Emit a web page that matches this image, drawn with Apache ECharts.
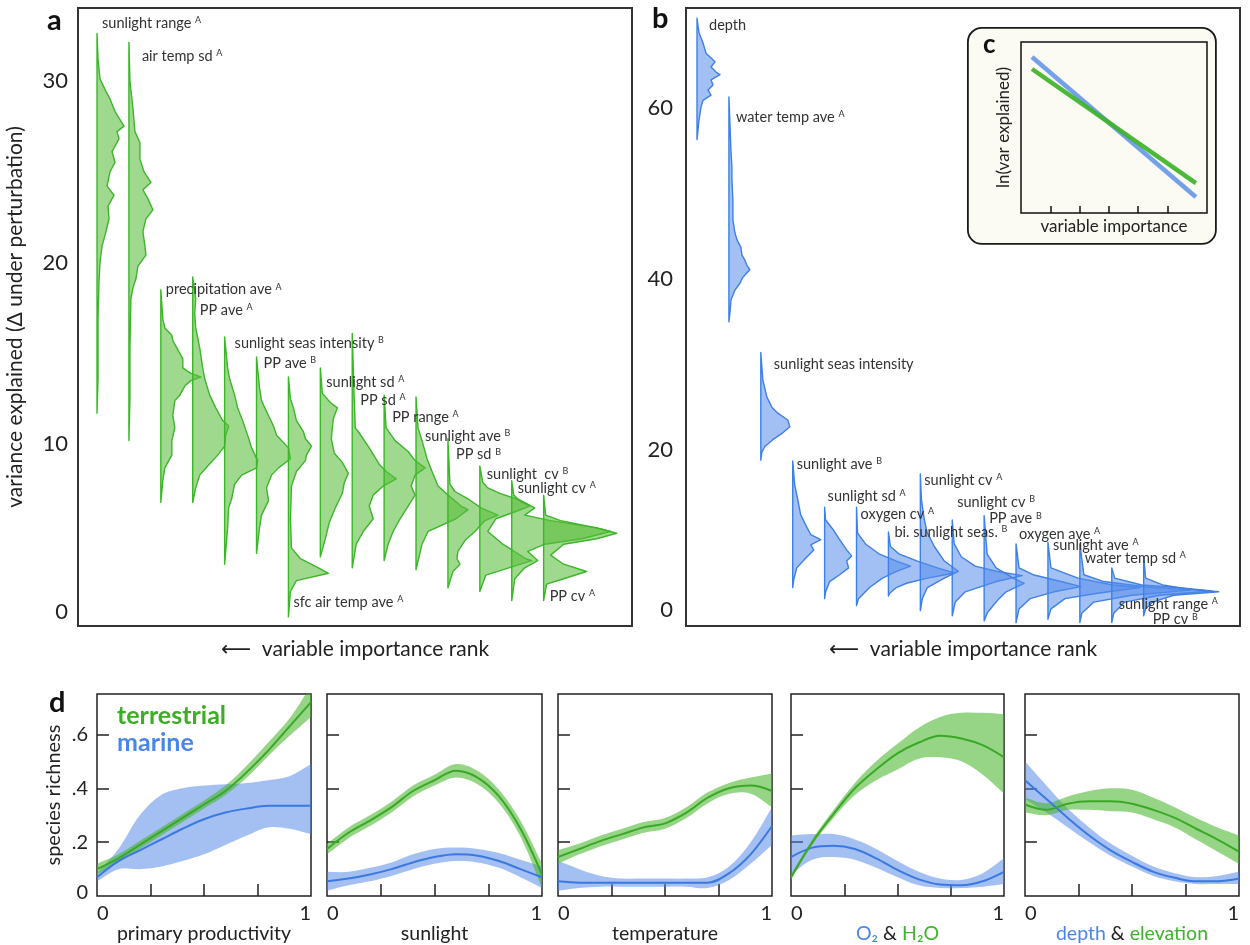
<!DOCTYPE html>
<html><head><meta charset="utf-8">
<script src="https://cdn.jsdelivr.net/npm/echarts@6.0.0/dist/echarts.min.js"></script>
<style>html,body{margin:0;padding:0;background:#fff}#c{width:1250px;height:945px}</style>
</head><body><div id="c"></div>
<script>
// ---------------- Panel a (terrestrial) : density profiles [value, density] ----------------
const aNames = ['sunlight range','air temp sd','precipitation ave','PP ave','sunlight seas intensity','PP ave','sfc air temp ave','sunlight sd','PP sd','PP range','sunlight ave','PP sd','sunlight  cv','sunlight cv','PP cv'];
const aSup = ['A','A','A','A','B','B','A','A','A','A','B','B','B','A','A'];
const aV1 = [[32.6,0],[31.2,1],[30.1,3],[29.4,9],[29.0,13],[28.3,18],[27.5,27],[27.2,20],[26.8,22],[26.1,15],[25.5,18],[25.0,13],[24.2,10],[23.7,17],[23.1,11],[22.4,12],[21.7,9],[20.9,5],[20.0,3],[19.0,2],[16.9,1],[13.6,1],[11.7,0]];
const aV2 = [[32.1,0],[30.0,1],[28.5,4],[27.2,6],[26.6,11],[25.7,11],[25.0,15],[24.4,22],[24.0,14],[23.5,19],[22.9,24],[22.4,17],[21.7,14],[20.9,16],[20.4,17],[19.8,9],[19.1,7],[18.6,4],[18.0,2],[15.3,1],[12.5,1],[10.2,0]];
const aV3 = [[18.5,0],[16.9,2],[16.4,4],[16.0,11],[15.7,12],[15.3,16],[14.7,22],[14.2,22],[13.9,30],[13.7,40],[13.5,30],[13.2,24],[12.7,19],[12.4,14],[11.6,12],[10.9,14],[10.2,11],[9.4,11],[8.7,4],[8.0,2],[6.8,0]];
const aV4 = [[19.2,0],[18.0,3],[17.2,2],[16.4,3],[15.3,7],[14.2,10],[13.6,12],[12.7,17],[12.0,23],[11.3,30],[11.0,36],[10.5,33],[9.9,32],[9.4,25],[8.8,15],[8.3,7],[7.6,3],[6.8,0]];
const aV5 = [[15.9,0],[14.2,3],[13.6,5],[12.7,10],[12.0,13],[11.3,18],[10.5,23],[9.8,27],[9.1,33],[8.7,32],[8.3,17],[7.8,10],[7.0,7],[6.5,4],[5.4,3],[3.4,0]];
const aV6 = [[14.8,0],[13.1,3],[12.4,5],[11.8,10],[11.0,17],[10.5,20],[9.8,32],[9.2,34],[8.7,22],[8.3,15],[7.6,10],[6.9,12],[6.1,5],[5.4,3],[4.0,0]];
const aV7 = [[13.7,0],[12.5,2],[12.0,5],[11.3,8],[10.7,15],[10.3,17],[9.9,23],[9.4,18],[9.1,17],[8.5,8],[7.7,3],[5.9,2],[4.3,3],[3.7,12],[3.2,30],[2.9,40],[2.5,8],[1.9,2],[0.5,0]];
const aV8 = [[14.2,0],[12.8,2],[12.3,10],[12.0,17],[11.4,13],[10.9,12],[10.3,11],[9.5,14],[9.0,22],[8.4,28],[7.9,24],[7.3,22],[6.5,15],[5.7,9],[4.8,5],[3.8,0]];
const aV9 = [[16.1,0],[12.5,2],[10.9,3],[10.7,6],[9.8,17],[8.9,27],[8.5,34],[8.1,44],[7.7,31],[7.2,21],[6.6,17],[5.9,21],[5.2,11],[4.5,4],[3.2,0]];
const aV10 = [[12.7,0],[10.9,2],[10.2,11],[9.6,24],[9.1,31],[8.7,41],[8.3,31],[7.7,27],[7.2,31],[6.6,24],[5.9,16],[5.2,9],[4.5,4],[3.6,0]];
const aV11 = [[12.6,0],[10.9,2],[10.2,6],[9.2,11],[8.5,16],[7.7,22],[7.2,32],[6.6,45],[6.4,52],[5.9,40],[5.2,12],[4.5,6],[3.1,0]];
const aV12 = [[10.3,0],[7.8,2],[7.4,7],[7.0,20],[6.5,33],[6.1,50],[5.8,37],[5.2,27],[4.7,17],[4.1,10],[3.7,9],[3.4,12],[3.0,5],[2.1,0]];
const aV13 = [[8.8,0],[7.9,3],[7.6,8],[7.3,20],[7.0,36],[6.6,50],[6.3,36],[5.9,16],[5.2,8],[4.5,23],[3.7,46],[3.6,52],[3.2,29],[2.8,6],[1.9,0]];
const aV14 = [[8.0,0],[7.2,2],[7.0,6],[6.5,23],[6.1,13],[5.8,39],[5.4,85],[5.2,99],[4.8,70],[4.5,33],[4.1,16],[3.6,26],[3.2,13],[2.6,3],[1.4,0]];
const aV15 = [[7.2,0],[6.1,2],[5.8,17],[5.4,53],[5.1,73],[4.8,53],[4.5,20],[3.9,7],[3.4,20],[3.0,43],[2.6,20],[2.3,3],[1.4,0]];
const aProfiles = [aV1,aV2,aV3,aV4,aV5,aV6,aV7,aV8,aV9,aV10,aV11,aV12,aV13,aV14,aV15];
const aTicks = [0,10,20,30];

// ---------------- Panel b (marine) ----------------
const bNames = ['depth','water temp ave','sunlight seas intensity','sunlight ave','sunlight sd','oxygen cv','bi. sunlight seas.','sunlight cv','sunlight cv','PP ave','oxygen ave','sunlight ave','water temp sd','sunlight range','PP cv'];
const bSup = ['','A','','B','A','A','B','A','B','B','A','A','A','A','B'];
const bV1 = [[70.5,0],[68.8,2],[67.6,6],[66.4,9],[65.4,18],[64.8,14],[64.2,19],[63.9,23],[63.3,14],[62.7,16],[62.1,11],[61.5,14],[60.9,6],[60.1,4],[58.6,2],[57.4,1],[56.3,0]];
const bV2 = [[61.3,0],[55.1,2],[53.1,3],[51.6,3],[49.2,4],[46.9,4],[45.4,6],[44.6,8],[43.7,12],[42.8,13],[42.2,16],[41.6,18],[41.1,21],[40.2,14],[39.5,11],[38.7,6],[37.5,2],[36.0,1],[35.0,0]];
const bV3 = [[31.4,0],[28.2,2],[26.2,6],[25.0,11],[24.3,17],[23.5,27],[22.7,29],[22.0,22],[21.2,12],[20.4,4],[19.7,1],[18.8,0]];
const bV4 = [[18.7,0],[15.9,2],[14.2,5],[12.4,8],[11.2,13],[10.1,18],[9.5,28],[8.9,18],[8.3,21],[7.1,11],[6.2,4],[4.8,1],[3.9,0]];
const bV5 = [[13.3,0],[11.8,1],[10.6,9],[9.5,15],[8.3,22],[7.6,27],[7.0,22],[6.2,24],[5.4,15],[4.6,5],[3.4,1],[2.6,0]];
const bV6 = [[13.3,0],[10.3,1],[9.0,9],[7.8,23],[7.0,40],[6.4,54],[5.8,40],[5.0,26],[3.9,13],[2.6,2],[1.8,0]];
const bV7 = [[10.4,0],[8.7,2],[7.8,11],[7.0,29],[6.2,49],[5.6,66],[5.0,39],[4.4,18],[3.9,8],[3.2,1],[2.9,0]];
const bV8 = [[17.2,0],[14.3,1],[11.8,4],[10.3,7],[8.7,14],[7.0,24],[5.8,38],[5.0,24],[3.9,7],[2.6,2],[1.2,0]];
const bV9 = [[11.8,0],[9.0,2],[7.5,9],[6.4,23],[5.8,44],[5.3,70],[4.6,44],[3.4,13],[2.2,3],[0.6,0]];
const bV10 = [[12.3,0],[7.8,3],[6.2,12],[5.0,29],[4.4,40],[3.4,22],[2.6,15],[1.8,9],[0.9,3],[0.0,0]];
const bV11 = [[9.0,0],[6.2,3],[5.4,17],[4.6,45],[4.0,65],[3.4,38],[2.6,14],[1.4,3],[-0.2,0]];
const bV12 = [[9.2,0],[6.2,3],[5.0,30],[4.2,65],[3.9,92],[3.2,48],[2.6,17],[1.4,3],[0.2,0]];
const bV13 = [[9.0,0],[5.4,4],[4.6,24],[4.0,65],[3.6,110],[3.0,52],[2.2,14],[0.9,2],[-0.2,0]];
const bV14 = [[6.2,0],[5.0,3],[4.2,30],[3.9,65],[3.5,100],[3.0,48],[2.2,13],[0.9,2],[-0.2,0]];
const bV15 = [[7.5,0],[5.0,2],[4.2,19],[3.7,45],[3.4,75],[3.0,30],[2.2,9],[1.4,2],[0.6,0]];
const bProfiles = [bV1,bV2,bV3,bV4,bV5,bV6,bV7,bV8,bV9,bV10,bV11,bV12,bV13,bV14,bV15];
const bTicks = [0,20,40,60];

// ---------------- Panel c (schematic) ----------------
const cX = [0.375, 5.97];
const cBlue = [0.912, 0.094];
const cGreen = [0.842, 0.175];

// ---------------- Panel d (species richness vs environment) ----------------
const dT = [0,0.1,0.2,0.3,0.4,0.5,0.6,0.7,0.8,0.9,1];
const dYTicks = [0,0.2,0.4,0.6];
const ppGreen = [.10,.14,.19,.24,.29,.34,.39,.46,.54,.63,.72];
const ppGreenLo = [.08,.125,.175,.225,.275,.325,.375,.44,.52,.595,.665];
const ppGreenHi = [.12,.155,.205,.255,.305,.355,.41,.485,.57,.66,.78];
const ppBlue = [.07,.13,.17,.21,.25,.285,.31,.325,.335,.335,.335];
const ppBlueLo = [.055,.10,.10,.11,.13,.155,.19,.225,.255,.25,.23];
const ppBlueHi = [.085,.175,.30,.375,.40,.41,.415,.42,.43,.445,.49];
const slGreen = [.175,.235,.28,.33,.39,.43,.465,.44,.37,.25,.08];
const slGreenLo = [.155,.215,.26,.31,.37,.41,.44,.415,.345,.22,.03];
const slGreenHi = [.195,.255,.30,.35,.41,.45,.49,.465,.395,.28,.12];
const slBlue = [.055,.065,.08,.10,.125,.145,.155,.15,.13,.10,.07];
const slBlueLo = [.02,.04,.055,.075,.10,.12,.13,.125,.105,.07,.03];
const slBlueHi = [.09,.09,.105,.125,.155,.175,.18,.175,.16,.135,.11];
const tpGreen = [.145,.175,.205,.23,.255,.27,.31,.365,.40,.41,.39];
const tpGreenLo = [.12,.155,.185,.21,.235,.25,.29,.345,.38,.38,.33];
const tpGreenHi = [.17,.195,.225,.25,.275,.29,.33,.385,.42,.44,.455];
const tpBlue = [.055,.05,.05,.05,.05,.05,.05,.05,.085,.155,.26];
const tpBlueLo = [.02,.03,.035,.035,.035,.035,.035,.03,.06,.12,.19];
const tpBlueHi = [.13,.10,.075,.065,.065,.065,.065,.07,.11,.20,.33];
const oxGreen = [.07,.20,.305,.40,.47,.53,.57,.595,.585,.56,.515];
const oxGreenLo = [.06,.19,.29,.375,.43,.47,.51,.515,.50,.45,.38];
const oxGreenHi = [.08,.21,.32,.42,.50,.565,.625,.665,.68,.68,.675];
const oxBlue = [.145,.18,.187,.175,.14,.097,.062,.043,.04,.055,.09];
const oxBlueLo = [.08,.135,.145,.135,.105,.07,.04,.03,.03,.035,.045];
const oxBlueHi = [.225,.23,.23,.21,.175,.13,.09,.065,.06,.085,.14];
const deGreen = [.34,.32,.343,.352,.352,.343,.32,.29,.25,.21,.165];
const deGreenLo = [.31,.30,.32,.32,.315,.31,.285,.255,.21,.165,.12];
const deGreenHi = [.365,.345,.37,.39,.40,.395,.365,.33,.29,.255,.225];
const deBlue = [.43,.36,.29,.225,.17,.127,.09,.068,.055,.055,.065];
const deBlueLo = [.36,.31,.255,.20,.15,.11,.075,.055,.045,.045,.045];
const deBlueHi = [.50,.41,.325,.255,.195,.15,.11,.085,.07,.075,.09];
const dXNames = ['primary productivity','sunlight','temperature','{b|O₂} & {g|H₂O}','{b|depth} & {g|elevation}'];

// ---------------- layout / style (not data) ----------------
const FONT = 'Lato, "Open Sans", "DejaVu Sans", sans-serif';
const INK = '#222';
const G_STROKE = '#3db52a', G_FILL = 'rgba(90,190,60,0.58)';
const B_STROKE = '#3f7fe6', B_FILL = 'rgba(85,140,235,0.55)';
const G_LINE = '#3aa827', B_LINE = '#3b78e0';
const G_BAND = 'rgba(70,180,40,0.56)', B_BAND = 'rgba(80,135,230,0.52)';
const W_SCALE = 1/31.9;
const aLabelLayout = [[5,-10,'t'],[13,14,'t'],[5,0,'t'],[7,33,'t'],[10,6,'t'],[7,6,'t'],[5,-15,'b'],[6,14,'t'],[8,67,'t'],[8,22,'t'],[9,39,'t'],[8,16,'t'],[7,8,'t'],[6,8,'t'],[6,-4,'b']];
const bLabelLayout = [[12,7,'t'],[7,20,'t'],[13,12,'t'],[4,3,'t'],[3,-11,'t'],[4,7,'t'],[6,0,'t'],[4,6,'t'],[5,-18,'t'],[5,3,'t'],[3,-10,'t'],[5,3,'t'],[5,14,'t'],[7,-18,'b'],[9,4,'b']];
const dGrids = [[97,214],[327,215],[558,214],[791,213],[1025,214]];

function violinSeries(ax, profiles, names, sups, layout, fill, stroke) {
  return {
    type: 'custom', xAxisIndex: ax, yAxisIndex: ax, silent: true,
    data: profiles.map((p, i) => [i + 1, p[0][0], p[p.length - 1][0]]),
    encode: { x: 0, y: [1, 2] },
    renderItem: (params, api) => {
      const i = params.dataIndex;
      const rank = api.value(0);
      const prof = profiles[i];
      const topPt = api.coord([rank, prof[0][0]]);
      const botPt = api.coord([rank, prof[prof.length - 1][0]]);
      const pts = prof.map(([v, d]) => api.coord([rank + d * W_SCALE, v]));
      const [dx, dy, anc] = layout[i];
      const ref = anc === 'b' ? botPt : topPt;
      const txt = sups[i] ? names[i] + ' {s|' + sups[i] + '}' : names[i];
      return { type: 'group', children: [
        { type: 'polygon', shape: { points: [topPt].concat(pts, [botPt]) },
          style: { fill: fill, stroke: stroke, lineWidth: 1.4, lineJoin: 'round' } },
        { type: 'text', x: topPt[0] + dx, y: ref[1] + dy, z2: 10,
          style: { text: txt, fill: '#333', fontSize: 14.5, fontFamily: FONT, align: 'left', verticalAlign: 'middle',
            rich: { s: { fontSize: 9, verticalAlign: 'top', fill: '#333', fontFamily: FONT, lineHeight: 14 } } } }
      ]};
    }
  };
}

function bandSeries(ax, lo, hi, fill) {
  return {
    type: 'custom', xAxisIndex: ax, yAxisIndex: ax, silent: true, clip: true, z: 1,
    data: dT.map((t, i) => [t, lo[i], hi[i]]),
    encode: { x: 0, y: [1, 2] },
    renderItem: (params, api) => {
      if (params.dataIndex !== 0) return null;
      const top = dT.map((t, i) => api.coord([t, hi[i]]));
      const bot = dT.map((t, i) => api.coord([t, lo[i]])).reverse();
      // repeat corner vertices so the smoothed outline keeps sharp ends at the panel edges
      const pts = [top[0]].concat(top, [top[top.length - 1]], [bot[0]], bot, [bot[bot.length - 1]]);
      return { type: 'polygon', shape: { points: pts, smooth: 0.35 }, style: { fill: fill } };
    }
  };
}

const xAxes = [], yAxes = [], grids = [], series = [];
const nameStyle = (fs) => ({ fontSize: fs, color: INK, fontFamily: FONT });
const zeroLift = (pad) => ({ formatter: v => v === 0 ? '{z|0}' : String(v), rich: { z: { fontSize: 22, fontFamily: FONT, color: INK, padding: [0, 0, pad, 0] } } });
// panel a
grids.push({ left: 78, top: 8, width: 554, height: 618, show: true, borderColor: '#333', borderWidth: 2 });
xAxes.push({ gridIndex: 0, type: 'value', min: 0.404, max: 17.77, axisLine: { show: false }, axisTick: { show: false }, axisLabel: { show: false }, splitLine: { show: false },
  name: '⟵  variable importance rank', nameLocation: 'middle', nameGap: 13, nameTextStyle: nameStyle(21) });
yAxes.push({ gridIndex: 0, type: 'value', min: 0, max: 34, axisLine: { show: false }, axisTick: { show: false }, splitLine: { show: false },
  axisLabel: Object.assign({ customValues: aTicks, fontSize: 22, color: INK, fontFamily: FONT, margin: 10 }, zeroLift(28)),
  name: 'variance explained (Δ under perturbation)', nameLocation: 'middle', nameRotate: 90, nameGap: 52, nameTextStyle: nameStyle(21) });
// panel b
grids.push({ left: 686, top: 8, width: 554, height: 618, show: true, borderColor: '#333', borderWidth: 2 });
xAxes.push({ gridIndex: 1, type: 'value', min: 0.655, max: 18.02, axisLine: { show: false }, axisTick: { show: false }, axisLabel: { show: false }, splitLine: { show: false },
  name: '⟵  variable importance rank', nameLocation: 'middle', nameGap: 13, nameTextStyle: nameStyle(21) });
yAxes.push({ gridIndex: 1, type: 'value', min: -0.6, max: 71.7, axisLine: { show: false }, axisTick: { show: false }, splitLine: { show: false },
  axisLabel: Object.assign({ customValues: bTicks, fontSize: 22, color: INK, fontFamily: FONT, margin: 13 }, zeroLift(22)) });
// panel c
grids.push({ left: 1021, top: 42, width: 186, height: 171, show: true, borderColor: '#111', borderWidth: 1.5, z: 3 });
xAxes.push({ gridIndex: 2, type: 'value', min: 0, max: 6.35, axisLine: { show: false }, splitLine: { show: false }, axisLabel: { show: false },
  axisTick: { show: true, inside: true, length: 7, customValues: [1,2,3,4,5], lineStyle: { color: '#111', width: 1.5 } },
  name: 'variable importance', nameLocation: 'middle', nameGap: 5, nameTextStyle: nameStyle(17) });
yAxes.push({ gridIndex: 2, type: 'value', min: 0, max: 1, axisLine: { show: false }, axisTick: { show: false }, axisLabel: { show: false }, splitLine: { show: false },
  name: 'ln(var explained)', nameLocation: 'middle', nameRotate: 90, nameGap: 9, nameTextStyle: nameStyle(17) });
series.push({ type: 'line', xAxisIndex: 2, yAxisIndex: 2, data: cX.map((x, i) => [x, cBlue[i]]), symbol: 'none', lineStyle: { color: '#74a1ea', width: 4.5 }, z: 4 });
series.push({ type: 'line', xAxisIndex: 2, yAxisIndex: 2, data: cX.map((x, i) => [x, cGreen[i]]), symbol: 'none', lineStyle: { color: '#3db327', width: 4.5, opacity: 0.92 }, z: 5 });

series.push(violinSeries(0, aProfiles, aNames, aSup, aLabelLayout, G_FILL, G_STROKE));
series.push(violinSeries(1, bProfiles, bNames, bSup, bLabelLayout, B_FILL, B_STROKE));

// panel d
const dData = [
  [ppGreen, ppGreenLo, ppGreenHi, ppBlue, ppBlueLo, ppBlueHi],
  [slGreen, slGreenLo, slGreenHi, slBlue, slBlueLo, slBlueHi],
  [tpGreen, tpGreenLo, tpGreenHi, tpBlue, tpBlueLo, tpBlueHi],
  [oxGreen, oxGreenLo, oxGreenHi, oxBlue, oxBlueLo, oxBlueHi],
  [deGreen, deGreenLo, deGreenHi, deBlue, deBlueLo, deBlueHi]
];
dGrids.forEach(([left, width], p) => {
  const ax = 3 + p;
  grids.push({ left: left, top: 694, width: width, height: 208, show: true, borderColor: '#222', borderWidth: 1.5 });
  xAxes.push({ gridIndex: ax, type: 'value', min: 0, max: 1, axisLine: { show: false }, splitLine: { show: false },
    axisTick: { show: true, inside: true, length: 12, customValues: [0.25, 0.5, 0.75], lineStyle: { color: INK, width: 1.5 } },
    axisLabel: { customValues: [0, 1], fontSize: 20, color: INK, fontFamily: FONT, margin: 7, alignMinLabel: 'left', alignMaxLabel: 'right', formatter: v => String(v) },
    name: dXNames[p], nameLocation: 'middle', nameGap: 25,
    nameTextStyle: { fontSize: 19.5, color: INK, fontFamily: FONT,
      rich: { b: { color: '#4a86e8', fontSize: 19.5, fontFamily: FONT }, g: { color: '#3db52a', fontSize: 19.5, fontFamily: FONT } } } });
  const yA = { gridIndex: ax, type: 'value', min: 0, max: 0.75, axisLine: { show: false }, splitLine: { show: false },
    axisTick: { show: true, inside: true, length: 12, customValues: [0.2, 0.4, 0.6], lineStyle: { color: INK, width: 1.5 } },
    axisLabel: { show: false } };
  if (p === 0) {
    yA.axisLabel = { show: true, customValues: dYTicks, fontSize: 20, color: INK, fontFamily: FONT, margin: 9,
      formatter: v => v === 0 ? '{z|0}' : String(+v.toFixed(1)).replace('0.', '.'),
      rich: { z: { fontSize: 20, fontFamily: FONT, color: INK, padding: [0, 0, 8, 0] } } };
    yA.name = 'species richness'; yA.nameLocation = 'middle'; yA.nameRotate = 90; yA.nameGap = 33;
    yA.nameTextStyle = nameStyle(20);
  }
  yAxes.push(yA);
  const [gl, glo, ghi, bl, blo, bhi] = dData[p];
  series.push(bandSeries(ax, blo, bhi, B_BAND));
  series.push(bandSeries(ax, glo, ghi, G_BAND));
  series.push({ type: 'line', xAxisIndex: ax, yAxisIndex: ax, data: dT.map((t, i) => [t, bl[i]]), symbol: 'none', smooth: 0.35, silent: true, lineStyle: { color: B_LINE, width: 2 }, z: 3 });
  series.push({ type: 'line', xAxisIndex: ax, yAxisIndex: ax, data: dT.map((t, i) => [t, gl[i]]), symbol: 'none', smooth: 0.35, silent: true, lineStyle: { color: G_LINE, width: 2 }, z: 3 });
});

const graphic = [
  { type: 'rect', left: 967, top: 27, z: -1, shape: { width: 248, height: 216, r: 14 }, style: { fill: '#fbfaf3', stroke: '#1a1a1a', lineWidth: 1.8 } },
  { type: 'text', left: 47, top: 6, style: { text: 'a', fontSize: 29, fontWeight: 'bold', fontFamily: FONT, fill: '#111' } },
  { type: 'text', left: 652, top: 4, style: { text: 'b', fontSize: 29, fontWeight: 'bold', fontFamily: FONT, fill: '#111' } },
  { type: 'text', left: 983, top: 32, z: 10, style: { text: 'c', fontSize: 26, fontWeight: 'bold', fontFamily: FONT, fill: '#111' } },
  { type: 'text', left: 49, top: 688, style: { text: 'd', fontSize: 29, fontWeight: 'bold', fontFamily: FONT, fill: '#111' } },
  { type: 'text', left: 117, top: 703, z: 10, style: { text: 'terrestrial', fontSize: 25, fontWeight: 'bold', fontFamily: FONT, fill: '#3cae24' } },
  { type: 'text', left: 117, top: 730, z: 10, style: { text: 'marine', fontSize: 25, fontWeight: 'bold', fontFamily: FONT, fill: '#4a86e8' } }
];

const chart = echarts.init(document.getElementById('c'), null, { renderer: 'canvas', width: 1250, height: 945 });
chart.setOption({
  backgroundColor: '#ffffff',
  animation: false,
  textStyle: { fontFamily: FONT },
  grid: grids, xAxis: xAxes, yAxis: yAxes, series: series, graphic: graphic
});
</script></body></html>
